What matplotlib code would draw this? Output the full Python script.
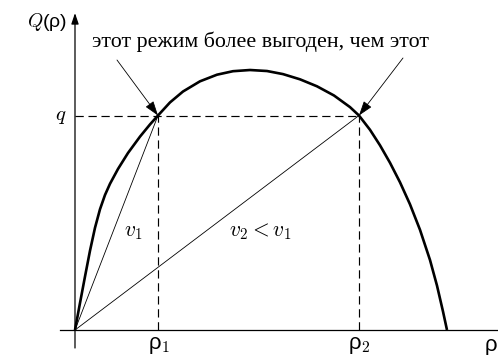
import matplotlib
matplotlib.use("Agg")

import matplotlib.pyplot as plt

plt.rcParams["mathtext.fontset"] = "cm"

# Flow-density curve Q(rho), rho in units of the jam density
rho_curve = [0.0, 0.0134, 0.0269, 0.0403, 0.0538, 0.0672, 0.0806, 0.0941, 0.1156,
             0.1425, 0.1747, 0.2016, 0.2231,
             0.2554, 0.2903, 0.3360, 0.3817, 0.4247, 0.4704, 0.5161, 0.5591,
             0.6048, 0.6505, 0.6962, 0.7392, 0.7634, 0.7930, 0.8199, 0.8468,
             0.8737, 0.9005, 0.9274, 0.9543, 0.9731, 0.9892, 1.0]
Q_curve = [0.0, 0.0723, 0.1438, 0.2130, 0.2749, 0.3246, 0.3629, 0.3931, 0.4329,
           0.4759, 0.5198, 0.5526, 0.5766,
           0.6118, 0.6411, 0.6685, 0.6863, 0.6957, 0.6989, 0.6962, 0.6879,
           0.6739, 0.6551, 0.6304, 0.5992, 0.5766, 0.5382, 0.4965, 0.4495,
           0.3970, 0.3379, 0.2694, 0.1882, 0.1194, 0.0500, 0.0]

# two regimes with the same flow q
rho1 = 0.2231
rho2 = 0.7634
q = 0.5766

note_text = "этот режим более выгоден, чем этот"
note_start_left = (0.1129, 0.7258)
note_start_right = (0.8817, 0.7312)

fig = plt.figure(figsize=(4.98, 3.55), dpi=100)
ax = fig.add_axes([0, 0, 1, 1])
ax.set_xlim(-0.2016, 1.1371)
ax.set_ylim(-0.0672, 0.8871)
ax.axis("off")

# axes with arrows
ax.plot([-0.0403, 1.2], [0, 0], color="k", lw=0.9)
ax.annotate("", xy=(0, 0.852), xytext=(0, -0.0484),
            arrowprops=dict(arrowstyle="-|>,head_length=0.65,head_width=0.22",
                            color="k", lw=0.9, shrinkA=0, shrinkB=0))

# guide lines to q, rho1, rho2
dash = (0, (7, 4))
ax.plot([0, rho2], [q, q], color="k", lw=0.85, linestyle=dash)
ax.plot([rho1, rho1], [0, q], color="k", lw=0.85, linestyle=dash)
ax.plot([rho2, rho2], [0, q], color="k", lw=0.85, linestyle=dash)

# chords from the origin: slopes are the speeds v1 and v2
ax.plot([0, rho1], [0, q], color="k", lw=0.6)
ax.plot([0, rho2], [0, q], color="k", lw=0.6)

ax.plot(rho_curve, Q_curve, color="k", lw=1.9, solid_capstyle="butt",
        solid_joinstyle="round")

# pointers from the caption to both regimes
for start, end in [(note_start_left, (rho1, q)), (note_start_right, (rho2, q))]:
    ax.annotate("", xy=end, xytext=start,
                arrowprops=dict(arrowstyle="-|>,head_length=0.9,head_width=0.3",
                                color="k", lw=0.6, shrinkA=0, shrinkB=0))

ax.text(0.0457, 0.7608, note_text, family="Liberation Serif", fontsize=15.8,
        ha="left", va="baseline")

ax.text(-0.0753, 0.828, "$Q$(ρ)", family="Liberation Sans", fontsize=14,
        ha="center", va="center")
ax.text(-0.0376, q, "$q$", fontsize=15, ha="center", va="center")
ax.text(rho1 + 0.004, -0.014, "ρ$_1$", family="Liberation Sans", fontsize=16,
        ha="center", va="top")
ax.text(rho2, -0.014, "ρ$_2$", family="Liberation Sans", fontsize=16,
        ha="center", va="top")
ax.text(1.1344, -0.014, "ρ", family="Liberation Sans", fontsize=16,
        ha="right", va="top")
ax.text(0.1559, 0.2634, "$v_1$", fontsize=15.5, ha="center", va="center")
ax.text(0.4973, 0.2634, "$v_2 < v_1$", fontsize=15.5, ha="center", va="center")

fig.savefig("out.png", dpi=100)
